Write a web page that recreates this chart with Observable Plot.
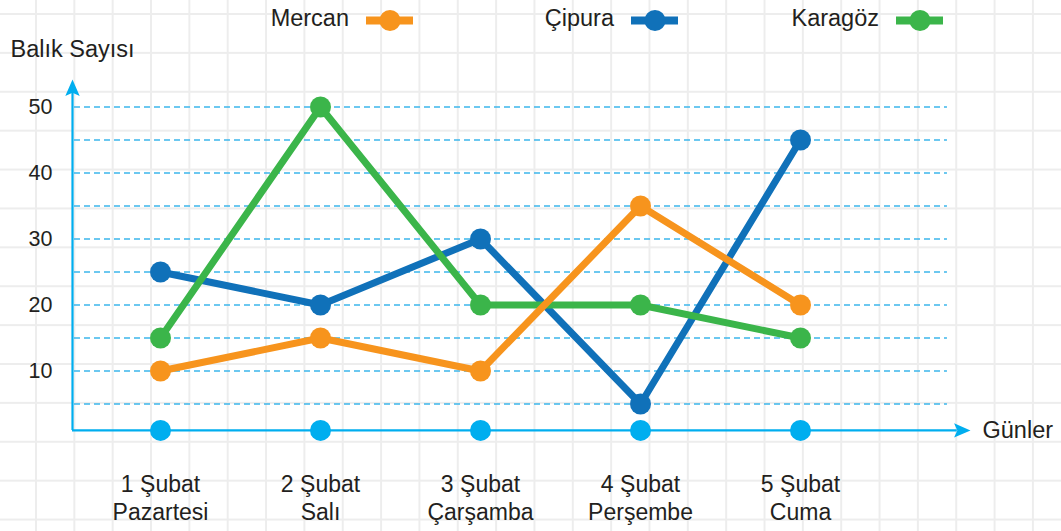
<!DOCTYPE html>
<html>
<head>
<meta charset="utf-8">
<script src="https://cdn.jsdelivr.net/npm/d3@7"></script>
<script src="https://cdn.jsdelivr.net/npm/@observablehq/plot@0.6"></script>
<style>
  html, body { margin: 0; padding: 0; }
  body {
    width: 1061px; height: 531px; overflow: hidden; background-color: #ffffff;
    background-image:
      linear-gradient(to right, #ededed 0, #ededed 2px, transparent 2px),
      linear-gradient(to bottom, #ededed 0, #ededed 2px, transparent 2px);
    background-size: 38.35px 38.9px;
    background-position: 35px 13px;
  }
  svg { display: block; }
</style>
</head>
<body>
<div id="chart"></div>
<script>
// ---- data ----
const days = ["1 Şubat\nPazartesi", "2 Şubat\nSalı", "3 Şubat\nÇarşamba", "4 Şubat\nPerşembe", "5 Şubat\nCuma"];
const series = ["Mercan", "Çipura", "Karagöz"];
const mercan  = [10, 15, 10, 35, 20];
const cipura  = [25, 20, 30, 5, 45];
const karagoz = [15, 50, 20, 20, 15];
const yTicks = [10, 20, 30, 40, 50];
const guideValues = [5, 10, 15, 20, 25, 30, 35, 40, 45, 50];
const colors = ["#f7941d", "#1071b9", "#3bb54a"];
const drawOrder = ["Çipura", "Karagöz", "Mercan"];

const valuesBySeries = {"Mercan": mercan, "Çipura": cipura, "Karagöz": karagoz};
const rows = series.flatMap(s => valuesBySeries[s].map((v, i) => ({series: s, day: i, value: v})));

const font = "'Liberation Sans', Arial, Helvetica, sans-serif";
const ink = "#231f20";
const axisBlue = "#00aeef";

// notched arrow head symbol
const arrowHead = {
  draw(ctx, size) {
    const k = Math.sqrt(size / Math.PI);
    ctx.moveTo(0, -1.1 * k);
    ctx.lineTo(0.9 * k, 0.95 * k);
    ctx.lineTo(0, 0.55 * k);
    ctx.lineTo(-0.9 * k, 0.95 * k);
    ctx.closePath();
  }
};

// axis placement (in scale units)
const AX = -0.55;   // y axis sits left of first day
const AY = 1;       // x axis baseline value
const X_END = 4.98;
const GUIDE_END = 4.906;

// ---- legend ----
const legend = Plot.plot({
  width: 1061, height: 40,
  marginTop: 0, marginBottom: 0, marginLeft: 256.5, marginRight: 9.5,
  x: {type: "band", domain: series, padding: 0, axis: null},
  y: {domain: [0, 1], axis: null},
  color: {domain: series, range: colors},
  style: {background: "transparent", fontFamily: font, color: ink, overflow: "visible"},
  marks: [
    Plot.tickY(series, {x: d => d, y: 0.5, stroke: d => d, strokeWidth: 8, insetLeft: 109, insetRight: 109}),
    Plot.dot(series, {x: d => d, y: 0.5, fill: d => d, r: 10.5}),
    Plot.text(series, {x: d => d, y: 0.5, dx: -41, dy: -2, textAnchor: "end", fontSize: 23.5, fill: ink})
  ]
});

// ---- main chart ----
const main = Plot.plot({
  width: 1061, height: 491,
  marginTop: 66.5, marginBottom: 94.5, marginLeft: 0, marginRight: 0,
  x: {domain: [-1, 5.63125], axis: null},
  y: {domain: [0, 50], axis: null},
  color: {domain: series, range: colors},
  style: {background: "transparent", fontFamily: font, color: ink, overflow: "visible"},
  marks: [
    Plot.ruleY(guideValues, {x1: AX, x2: GUIDE_END, stroke: "#3cb7ec", strokeWidth: 1.3, strokeDasharray: "6,4", dx: 2}),
    Plot.ruleX([AX], {y1: AY, y2: 52.5, stroke: axisBlue, strokeWidth: 2.2}),
    Plot.ruleY([AY], {x1: AX, x2: X_END, stroke: axisBlue, strokeWidth: 2.2}),
    Plot.dot([0], {x: AX, y: 52.83, symbol: arrowHead, r: 8, fill: axisBlue}),
    Plot.dot([0], {x: 5.0075, y: AY, symbol: arrowHead, r: 8, fill: axisBlue, rotate: 90}),
    Plot.dot(days, {x: (d, i) => i, y: AY, r: 10.5, fill: axisBlue}),
    ...drawOrder.flatMap(s => {
      const data = rows.filter(r => r.series === s);
      return [
        Plot.line(data, {x: "day", y: "value", stroke: "series", strokeWidth: 7, strokeLinejoin: "round"}),
        Plot.dot(data, {x: "day", y: "value", fill: "series", r: 10.5})
      ];
    }),
    Plot.text(yTicks, {x: AX, y: d => d, dx: -20, textAnchor: "end", fontSize: 21.5, fill: ink}),
    Plot.text(days, {x: (d, i) => i, frameAnchor: "bottom", dy: 35, lineAnchor: "top", lineHeight: 1.22, fontSize: 23, fill: ink}),
    Plot.text(["Balık Sayısı"], {x: AX, y: 58.7, fontSize: 23.5, fill: ink}),
    Plot.text(["Günler"], {x: 5.0625, y: AY, dx: 12, textAnchor: "start", fontSize: 23.5, fill: ink})
  ]
});

const root = document.getElementById("chart");
root.appendChild(legend);
root.appendChild(main);
</script>
</body>
</html>
